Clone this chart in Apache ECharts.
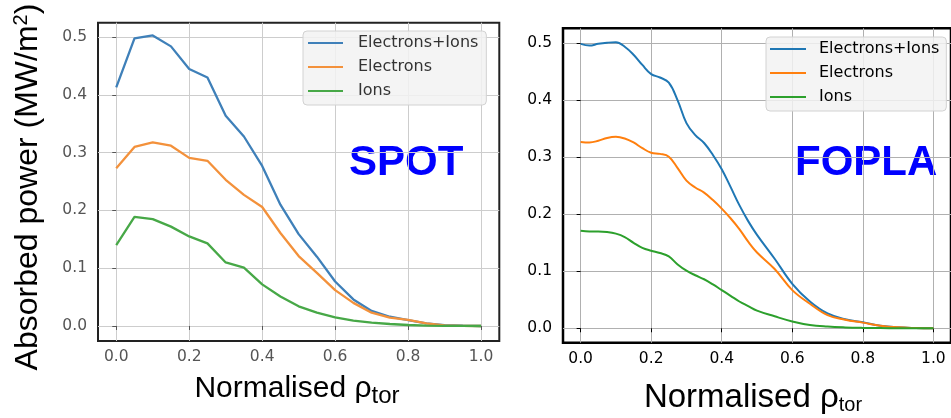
<!DOCTYPE html>
<html>
<head>
<meta charset="utf-8">
<script src="https://cdn.jsdelivr.net/npm/echarts@6/dist/echarts.min.js"></script>
<style>
  html, body { margin: 0; padding: 0; background: #fff; }
  #chart { width: 951px; height: 418px; }
</style>
</head>
<body>
<div id="chart"></div>
<script>
// Series names and axis ticks shared by both panels
const seriesNames = ['Electrons+Ions', 'Electrons', 'Ions'];
const tickValuesX = [0, 0.2, 0.4, 0.6, 0.8, 1.0];
const tickValuesY = [0, 0.1, 0.2, 0.3, 0.4, 0.5];

// SPOT absorbed power profiles (MW/m^2) vs normalised rho_tor
const spotRho = [0, 0.05, 0.1, 0.15, 0.2, 0.25, 0.3, 0.35, 0.4, 0.45, 0.5,
                 0.55, 0.6, 0.65, 0.7, 0.75, 0.8, 0.85, 0.9, 0.95, 1.0];
const spotTotal = [0.413, 0.498, 0.503, 0.484, 0.445, 0.430, 0.364, 0.328, 0.277, 0.210, 0.159,
                   0.120, 0.077, 0.046, 0.026, 0.016, 0.010, 0.0045, 0.0016, 0.0005, 0];
const spotElectrons = [0.273, 0.310, 0.318, 0.312, 0.291, 0.286, 0.253, 0.227, 0.206, 0.161, 0.121,
                       0.092, 0.062, 0.040, 0.023, 0.0144, 0.0104, 0.0045, 0.0011, 0.0003, 0];
const spotIons = [0.140, 0.189, 0.185, 0.172, 0.155, 0.143, 0.110, 0.101, 0.072, 0.051, 0.034,
                  0.023, 0.015, 0.0092, 0.0057, 0.0034, 0.0017, 0.0007, 0.0003, 0.0001, 0];

// FOPLA absorbed power profiles (MW/m^2) vs normalised rho_tor
const foplaRho = [0, 0.025, 0.05, 0.075, 0.1, 0.125, 0.15, 0.175, 0.2, 0.225, 0.25,
                  0.275, 0.3, 0.325, 0.35, 0.375, 0.4, 0.425, 0.45, 0.475, 0.5,
                  0.55, 0.6, 0.65, 0.7, 0.75, 0.8, 0.85, 0.9, 0.95, 1.0];
const foplaTotal = [0.499, 0.496, 0.499, 0.501, 0.502, 0.494, 0.480, 0.462, 0.446, 0.440, 0.431,
                    0.400, 0.360, 0.339, 0.325, 0.304, 0.279, 0.248, 0.216, 0.188, 0.164,
                    0.122, 0.078, 0.047, 0.026, 0.016, 0.0105, 0.0045, 0.0016, 0.0005, 0];
const foplaElectrons = [0.327, 0.326, 0.329, 0.334, 0.336, 0.333, 0.326, 0.316, 0.308, 0.306, 0.301,
                        0.281, 0.259, 0.247, 0.238, 0.225, 0.210, 0.193, 0.174, 0.152, 0.133,
                        0.104, 0.067, 0.043, 0.023, 0.015, 0.0099, 0.0045, 0.0016, 0.0005, 0];
const foplaIons = [0.171, 0.170, 0.170, 0.169, 0.166, 0.160, 0.150, 0.141, 0.136, 0.132, 0.126,
                   0.112, 0.101, 0.093, 0.086, 0.077, 0.067, 0.057, 0.047, 0.039, 0.031,
                   0.021, 0.012, 0.0058, 0.003, 0.0015, 0.0007, 0.0003, 0.0001, 0, 0];

const leftColors = ['#3f80b9', '#f3913b', '#47a847'];
const rightColors = ['#1f77b4', '#ff7f0e', '#2ca02c'];

const zip = (xs, ys) => xs.map((x, i) => [x, ys[i]]);
const fmt = v => v.toFixed(1);

function xAxisFor(gridIndex, labelColor, gridColor) {
  return {
    type: 'value', gridIndex, min: -0.05, max: 1.05,
    axisLine: { show: false },
    axisTick: { show: true, customValues: tickValuesX, length: 4, lineStyle: { color: labelColor, width: 1 } },
    axisLabel: { customValues: tickValuesX, formatter: fmt, margin: 8,
                 fontFamily: 'DejaVu Sans', fontSize: 15.5, color: labelColor },
    splitLine: { show: true, lineStyle: { color: gridColor, width: 1 } }
  };
}
function yAxisFor(gridIndex, min, max, labelColor, gridColor) {
  return {
    type: 'value', gridIndex, min, max,
    axisLine: { show: false },
    axisTick: { show: true, customValues: tickValuesY, length: 4, lineStyle: { color: labelColor, width: 1 } },
    axisLabel: { customValues: tickValuesY, formatter: fmt, margin: 11,
                 fontFamily: 'DejaVu Sans', fontSize: 15.5, color: labelColor },
    splitLine: { show: true, lineStyle: { color: gridColor, width: 1 } }
  };
}
function lineSeries(name, data, color, axisIndex, smooth, width) {
  return {
    type: 'line', name, data, xAxisIndex: axisIndex, yAxisIndex: axisIndex,
    showSymbol: false, symbol: 'none', smooth, clip: true,
    lineStyle: { color, width }, itemStyle: { color },
    emphasis: { disabled: true }
  };
}
function legendFor(left, top, colors, textColor, padding, textPad, iconW) {
  return {
    orient: 'vertical', left, top, padding,
    itemWidth: iconW, itemHeight: 2, itemGap: 8, icon: 'rect',
    backgroundColor: 'rgba(242,242,242,0.85)', borderColor: '#d2d2d2', borderWidth: 1, borderRadius: 4,
    textStyle: { fontFamily: 'DejaVu Sans', fontSize: 16, color: textColor, padding: [0, 0, 0, textPad] },
    selectedMode: false,
    data: seriesNames.map((n, i) => ({ name: n, itemStyle: { color: colors[i] } }))
  };
}

const chart = echarts.init(document.getElementById('chart'), null, { renderer: 'canvas' });
chart.setOption({
  animation: false,
  backgroundColor: '#ffffff',
  grid: [
    { left: 98, top: 22.7, width: 401.3, height: 318.3, show: true, borderColor: '#222', borderWidth: 2, backgroundColor: 'transparent' },
    { left: 563, top: 28.3, width: 396.3, height: 314.4, show: true, borderColor: '#000', borderWidth: 2.5, backgroundColor: 'transparent' }
  ],
  xAxis: [
    xAxisFor(0, '#555', '#cdcdcd'),
    xAxisFor(1, '#000', '#b0b0b0')
  ],
  yAxis: [
    yAxisFor(0, -0.026, 0.525, '#555', '#cdcdcd'),
    yAxisFor(1, -0.0253, 0.5263, '#000', '#b0b0b0')
  ],
  legend: [
    legendFor(303, 31, leftColors, '#333', [4, 8, 6, 5], 10, 35),
    legendFor(766, 37, rightColors, '#000', [4, 7, 6, 4], 8, 36)
  ],
  series: [
    lineSeries(seriesNames[0], zip(spotRho, spotTotal), leftColors[0], 0, false, 2.3),
    lineSeries(seriesNames[1], zip(spotRho, spotElectrons), leftColors[1], 0, false, 2.3),
    lineSeries(seriesNames[2], zip(spotRho, spotIons), leftColors[2], 0, false, 2.3),
    lineSeries(seriesNames[0], zip(foplaRho, foplaTotal), rightColors[0], 1, 0.4, 2),
    lineSeries(seriesNames[1], zip(foplaRho, foplaElectrons), rightColors[1], 1, 0.4, 2),
    lineSeries(seriesNames[2], zip(foplaRho, foplaIons), rightColors[2], 1, 0.4, 2)
  ],
  graphic: [
    { type: 'text', x: 28, y: 187, rotation: Math.PI / 2,
      style: { text: 'Absorbed power (MW/m{sup|2})', fill: '#000', align: 'center', verticalAlign: 'middle',
               fontFamily: 'Liberation Sans', fontSize: 32,
               rich: { sup: { fontSize: 20, verticalAlign: 'top', fontFamily: 'Liberation Sans', padding: [0, 0, 14, 0] } } } },
    { type: 'text', x: 297, y: 389,
      style: { text: 'Normalised ρ{sub|tor}', fill: '#000', align: 'center', verticalAlign: 'middle',
               fontFamily: 'Liberation Sans', fontSize: 30,
               rich: { sub: { fontSize: 24, fontFamily: 'Liberation Sans', padding: [14, 0, 0, 0] } } } },
    { type: 'text', x: 753, y: 398,
      style: { text: 'Normalised ρ{sub|tor}', fill: '#000', align: 'center', verticalAlign: 'middle',
               fontFamily: 'Liberation Sans', fontSize: 33,
               rich: { sub: { fontSize: 20, fontFamily: 'Liberation Sans', padding: [14, 0, 0, 0] } } } },
    { type: 'text', x: 349, y: 163,
      style: { text: 'SPOT', fill: '#0000ff', align: 'left', verticalAlign: 'middle',
               fontFamily: 'Liberation Sans', fontWeight: 'bold', fontSize: 42 } },
    { type: 'text', x: 795, y: 163,
      style: { text: 'FOPLA', fill: '#0000ff', align: 'left', verticalAlign: 'middle',
               fontFamily: 'Liberation Sans', fontWeight: 'bold', fontSize: 42 } }
  ]
});
</script>
</body>
</html>
